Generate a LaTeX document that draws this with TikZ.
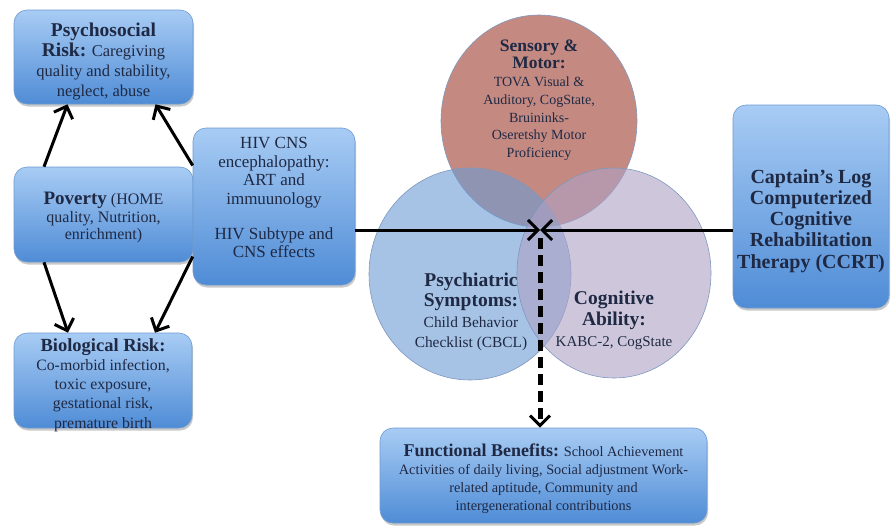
\documentclass[tikz,border=0pt]{standalone}
\usepackage{fontspec}
\setmainfont{Liberation Serif}
\usetikzlibrary{arrows.meta,shadows,calc}
\definecolor{txt}{HTML}{1F2944}
\definecolor{boxtop}{HTML}{A8CCF4}
\definecolor{boxbot}{HTML}{4F8CD6}
\definecolor{boxline}{HTML}{6F9BD0}
\definecolor{sensfill}{HTML}{C48A82}
\definecolor{psyfill}{HTML}{6C9BD5}
\definecolor{cogfill}{HTML}{AEA2C5}
\definecolor{circline}{HTML}{7E97BE}
\newcommand\ttl[2][19]{{\fontsize{#1}{20}\selectfont\bfseries #2}}
\tikzset{
  bluebox/.style={draw=boxline, line width=0.6pt, rounded corners=13pt,
    top color=boxtop, bottom color=boxbot, inner sep=0pt,
    drop shadow={shadow xshift=1pt, shadow yshift=-2.5pt, opacity=0.35, fill=black!60}},
  boxtext/.style={text=txt, align=center, inner sep=0pt},
  conn/.style={line width=3pt, draw=black, -{Straight Barb[length=10pt,width=20pt,line width=3pt]}},
  dconn/.style={line width=5pt, draw=black, dash pattern=on 11pt off 6pt,
    -{Straight Barb[length=10pt,width=20pt,line width=3pt]}},
}
\begin{document}
\begin{tikzpicture}[x=1pt,y=-1pt]
\useasboundingbox[fill=white] (0,0) rectangle (891,525);

% circles
\fill[sensfill] (539,121) ellipse [x radius=98, y radius=106];
\draw[circline, line width=0.6pt] (539,121) ellipse [x radius=98, y radius=106];
\fill[psyfill, fill opacity=0.6] (470,274) ellipse [x radius=101, y radius=106];
\draw[circline, line width=0.6pt] (470,274) ellipse [x radius=101, y radius=106];
\fill[cogfill, fill opacity=0.6] (614,273) ellipse [x radius=97, y radius=105];
\draw[circline, line width=0.6pt] (614,273) ellipse [x radius=97, y radius=105];

\node[boxtext, font=\fontsize{14}{17.7}\selectfont] (sens) at (539,100) {\ttl[17.5]{Sensory \&}\\ \ttl[17.5]{Motor:}\\ TOVA Visual \&\\ Auditory, CogState,\\ Bruininks-\\ Oseretshy Motor\\ Proficiency};
\node[boxtext, font=\fontsize{15.4}{20.5}\selectfont] (psych) at (471,312) {\ttl[19.5]{Psychiatric}\\ \ttl[19.5]{Symptoms:}\\ Child Behavior\\ Checklist (CBCL)};
\node[boxtext, font=\fontsize{15}{21}\selectfont] (cog) at (614,320) {\ttl[19.5]{Cognitive}\\ \ttl[19.5]{Ability:}\\ KABC-2, CogState};

% boxes
\node[bluebox, minimum width=179, minimum height=94] (psy) at (103.5,57) {};
\node[boxtext, font=\fontsize{16.5}{20}\selectfont] (psytext) at (103.5,62) {\ttl[19.5]{Psychosocial}\\ \ttl[19.5]{Risk:} Caregiving\\ quality and stability,\\ neglect, abuse};
\node[bluebox, minimum width=179, minimum height=95] (pov) at (103.5,214.5) {};
\node[boxtext, font=\fontsize{16}{17.5}\selectfont] (povtext) at (103.5,217.5) {\ttl[19]{Poverty} (HOME\\ quality, Nutrition,\\ enrichment)};
\node[bluebox, minimum width=162, minimum height=157] (hiv) at (274,206.5) {};
\node[boxtext, font=\fontsize{17}{18.5}\selectfont] (hivtext) at (274,197.5) {HIV CNS\\ encephalopathy:\\ ART and\\ immuunology\\[16.5pt] HIV Subtype and\\ CNS effects};
\node[bluebox, minimum width=178, minimum height=95] (bio) at (103,380.5) {};
\node[boxtext, font=\fontsize{15.8}{19.2}\selectfont] (biotext) at (103,385) {\ttl[18.5]{Biological Risk:}\\ Co-morbid infection,\\ toxic exposure,\\ gestational risk,\\ premature birth};
\node[bluebox, minimum width=156, minimum height=203] (ccrt) at (811,206.5) {};
\node[boxtext, font=\fontsize{20}{21.2}\selectfont\bfseries] (ccrttext) at (811,221) {Captain's Log\\ Computerized\\ Cognitive\\ Rehabilitation\\ Therapy (CCRT)};
\node[bluebox, minimum width=327, minimum height=95] (func) at (543.5,475.5) {};
\node[boxtext, font=\fontsize{14.3}{18}\selectfont] (functext) at (543.5,479) {\ttl[18]{Functional Benefits:} School Achievement\\ Activities of daily living, Social adjustment Work-\\ related aptitude, Community and\\ intergenerational contributions};

% connectors
\coordinate (meet) at (540,230);
\draw[conn] ([xshift=-59.5]pov.north) -- ([xshift=-36]psy.south);
\draw[conn] ([yshift=41]hiv.west) -- ([xshift=52]psy.south);
\draw[conn] ([xshift=-59.5]pov.south) -- ([xshift=-35]bio.north);
\draw[conn] ([yshift=-50]hiv.west) -- ([xshift=52]bio.north);
\draw[conn] ([yshift=-23.5]hiv.east) -- (meet);
\draw[conn] (ccrt.west |- meet) -- (meet);
\draw[dconn] ([yshift=-8]meet) -- (func.north -| meet);
\end{tikzpicture}
\end{document}
